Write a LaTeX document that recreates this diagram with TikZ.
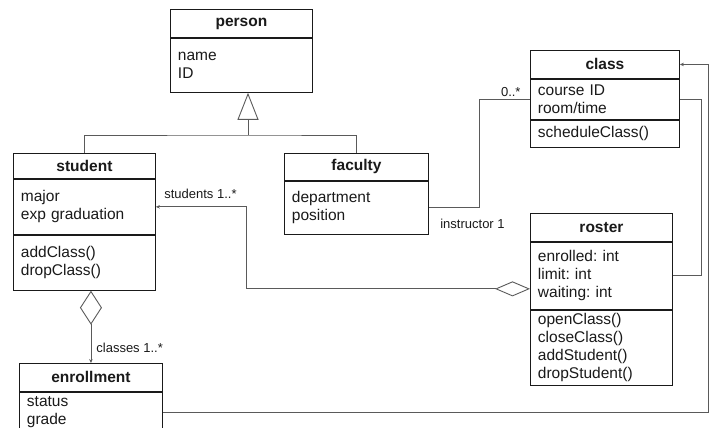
\documentclass[tikz,border=0pt]{standalone}
\usepackage{fontspec}
\setmainfont{Liberation Sans}
\frenchspacing
\usetikzlibrary{positioning,arrows.meta,calc}
\definecolor{cBox}{HTML}{1A1A1A}
\definecolor{cEdge}{HTML}{5A5A5A}
\definecolor{cText}{HTML}{1A1A1A}
\tikzset{
  box/.style    ={draw=cBox, line width=0.9pt, fill=white, inner sep=0pt,
                  text=cText, font=\fontsize{15.5}{18}\selectfont},
  head/.style   ={box, font=\fontsize{15.5}{18}\selectfont\bfseries, minimum height=28pt},
  part/.style   ={box, align=left, inner xsep=7.5pt, inner ysep=0pt},
  lbl/.style    ={font=\fontsize{13}{15}\selectfont, inner sep=0pt, text=cText},
  assoc/.style  ={line width=0.9pt, draw=cEdge},
  nav/.style    ={assoc, -{Stealth[length=4pt,width=3.5pt]}},
  inherit/.style={assoc, -{Triangle[open,length=27pt,width=21pt]}},
  aggr/.style   ={assoc, {Stealth[length=4pt,width=3.5pt]}-{Diamond[open,length=35pt,width=15pt]}},
  compose/.style={assoc, {Diamond[open,length=34pt,width=22pt]}-{Stealth[length=4pt,width=3.5pt]}},
}

\begin{document}
\begin{tikzpicture}[x=1pt, y=-1pt]
  \useasboundingbox (0,0) rectangle (712,428);

  % ---- person ----
  \node[head, minimum width=142pt, anchor=north west] (person) at (170,9) {person};
  \node[part, below=0pt of person, text width=127pt, minimum height=54pt] (person-attr)
    {name\\ID};

  % ---- student ----
  \node[head, minimum width=142pt, minimum height=25pt, anchor=north west] (student) at (13,153) {student};
  \node[part, below=0pt of student, text width=127pt, minimum height=55pt] (student-attr)
    {major\\exp graduation};
  \node[part, below=0pt of student-attr, text width=127pt, minimum height=55pt] (student-meth)
    {addClass()\\dropClass()};

  % ---- faculty ----
  \node[head, minimum width=144pt, minimum height=27pt, anchor=north west] (faculty) at (284,153) {faculty};
  \node[part, below=0pt of faculty, text width=129pt, minimum height=53pt] (faculty-attr)
    {department\\position};

  % ---- class ----
  \node[head, minimum width=149pt, anchor=north west] (class) at (530,50) {class};
  \node[part, below=0pt of class, text width=134pt, minimum height=40pt] (class-attr)
    {course ID\\room/time};
  \node[part, below=0pt of class-attr, text width=134pt, minimum height=27pt] (class-meth)
    {scheduleClass()};

  % ---- roster ----
  \node[head, minimum width=142pt, anchor=north west] (roster) at (530,213) {roster};
  \node[part, below=0pt of roster, text width=127pt, minimum height=67pt] (roster-attr)
    {enrolled: int\\limit: int\\waiting: int};
  \node[part, below=0pt of roster-attr, text width=127pt, minimum height=75pt] (roster-meth)
    {openClass()\\closeClass()\\addStudent()\\dropStudent()};

  % ---- enrollment ----
  \node[head, minimum width=143pt, anchor=north west] (enrollment) at (19,363) {enrollment};
  \node[part, below=0pt of enrollment, text width=128pt, minimum height=40pt] (enrollment-attr)
    {status\\grade};

  % ---- generalization ----
  \coordinate (split) at (248,135);
  \draw[assoc] (student.north) |- (split) -| (faculty.north);
  \draw[inherit] (split) -- (split |- person-attr.south);

  % ---- associations ----
  \draw[assoc] (faculty-attr.east)
        node[lbl, anchor=base west, xshift=11pt, yshift=-20.5pt] (l-instr) {instructor 1}
        -- ++(51,0) |- (class-attr.west)
        node[lbl, pos=1, anchor=base east, xshift=-9pt, yshift=3pt] (l-class) {0..*};

  \coordinate (agg) at ([yshift=-13pt]roster-attr.west);
  \draw[aggr] (student-attr.east)
        node[lbl, anchor=base west, xshift=8pt, yshift=8.5pt] (l-stud) {students 1..*}
        -- ++(91,0) |- (agg);

  \draw[compose] (enrollment.north |- student-meth.south) -- (enrollment.north)
        node[lbl, pos=1, anchor=base west, xshift=5pt, yshift=10.5pt] (l-enr) {classes 1..*};

  \draw[nav] (enrollment-attr.east) -| ([xshift=29pt]class.east) -- (class.east);
  \draw[assoc] (roster-attr.east) -| ([xshift=22pt]class-attr.east) -- (class-attr.east);

\end{tikzpicture}
\end{document}
